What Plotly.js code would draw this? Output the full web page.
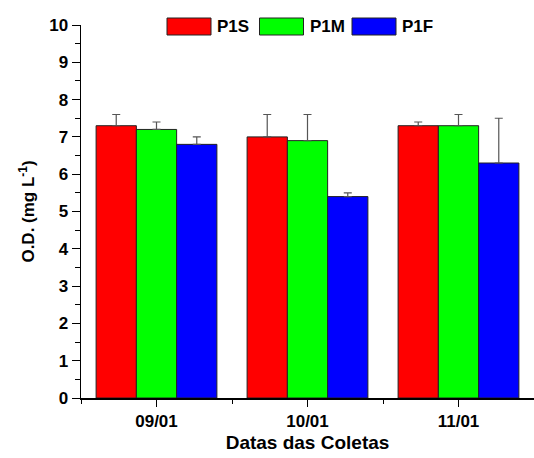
<!DOCTYPE html>
<html>
<head>
<meta charset="utf-8">
<script src="https://cdn.plot.ly/plotly-3.0.1.min.js"></script>
<style>html,body{margin:0;padding:0;background:#fff;}#chart{width:534px;height:458px;}</style>
</head>
<body>
<div id="chart"></div>
<script>
const categories = ["09/01", "10/01", "11/01"];
const seriesNames = ["P1S", "P1M", "P1F"];
const p1sValues = [7.3, 7.0, 7.3];
const p1sErrors = [0.3, 0.6, 0.1];
const p1mValues = [7.2, 6.9, 7.3];
const p1mErrors = [0.2, 0.7, 0.3];
const p1fValues = [6.8, 5.4, 6.3];
const p1fErrors = [0.2, 0.1, 1.2];
const colors = ["#ff0000", "#00ff00", "#0000ff"];

const xIdx = categories.map((_, i) => i);
const vals = [p1sValues, p1mValues, p1fValues];
const errs = [p1sErrors, p1mErrors, p1fErrors];

const font = "Liberation Sans, Arial, sans-serif";

const traces = seriesNames.map((name, k) => ({
  type: "bar",
  name: name,
  x: xIdx,
  y: vals[k],
  marker: {color: colors[k], line: {color: "#222", width: 1}},
  error_y: {type: "data", symmetric: false, array: errs[k], arrayminus: errs[k].map(() => 0),
            color: "#555", thickness: 1.2, width: 4},
  showlegend: false
}));

// custom legend (large swatches like the original)
const shapes = [];
const annotations = [];
const legX0 = (167 - 81) / 453, legStep = 92.5 / 453, swW = 44 / 453;
const legY0 = (398 - 35) / 373, legY1 = (398 - 18) / 373;
seriesNames.forEach((name, k) => {
  const x0 = legX0 + k * legStep;
  shapes.push({type: "rect", xref: "paper", yref: "paper", x0: x0, x1: x0 + swW, y0: legY0, y1: legY1,
               fillcolor: colors[k], line: {color: "#222", width: 1}});
  annotations.push({xref: "paper", yref: "paper", x: x0 + swW + 4 / 453, y: (legY0 + legY1) / 2,
                    xanchor: "left", yanchor: "middle", showarrow: false, text: "<b>" + name + "</b>",
                    font: {family: font, size: 17, color: "#000"}});
});

const layout = {
  width: 534, height: 458,
  margin: {l: 81, r: 0, t: 25, b: 60},
  paper_bgcolor: "#fff", plot_bgcolor: "#fff",
  barmode: "group", bargap: 0.2, bargroupgap: 0,
  font: {family: font, color: "#000"},
  xaxis: {
    range: [-0.5, 2.5], tickmode: "array", tickvals: xIdx, ticktext: categories.map(c => "<b>" + c + "</b>"),
    ticks: "outside", ticklen: 7, tickwidth: 1, tickcolor: "#000",
    minor: {tick0: 0.5, dtick: 1, ticks: "outside", ticklen: 4, tickcolor: "#000", showgrid: false},
    showline: true, linecolor: "#000", linewidth: 1.5, showgrid: false, zeroline: false,
    tickfont: {family: font, size: 17, color: "#000"},
    title: {text: "<b>Datas das Coletas</b>", font: {family: font, size: 19, color: "#000"}, standoff: 6}
  },
  yaxis: {
    range: [0, 10], dtick: 1, tick0: 0,
    ticks: "outside", ticklen: 8, tickwidth: 1, tickcolor: "#000",
    minor: {dtick: 0.5, ticks: "outside", ticklen: 5, tickcolor: "#000", showgrid: false},
    showline: true, linecolor: "#000", linewidth: 1.5, showgrid: false, zeroline: false,
    tickprefix: "<b>", ticksuffix: "</b>",
    tickfont: {family: font, size: 17, color: "#000"},
    title: {text: "<b>O.D. (mg L<sup>-1</sup>)</b>", font: {family: font, size: 17, color: "#000"}, standoff: 10}
  },
  shapes: shapes,
  annotations: annotations,
  showlegend: false
};

Plotly.newPlot("chart", traces, layout, {displayModeBar: false, staticPlot: true});
</script>
</body>
</html>
